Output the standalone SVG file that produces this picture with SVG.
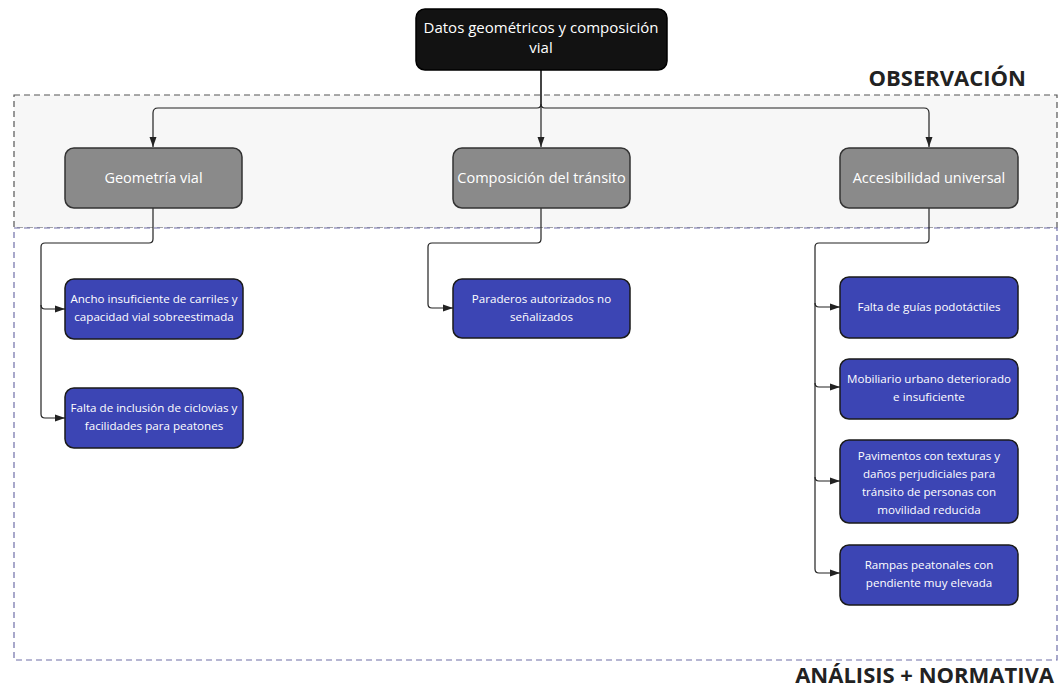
<svg xmlns="http://www.w3.org/2000/svg" width="1062" height="690" viewBox="0 0 1062 690">
<defs>
<marker id="arr" viewBox="0 0 10 10" refX="10" refY="5" markerWidth="10" markerHeight="10" markerUnits="userSpaceOnUse" orient="auto">
<path d="M0,1.5 L10,5 L0,8.5 Z" fill="#222"/>
</marker>
<style>
text{font-family:"Open Sans","Noto Sans","Liberation Sans",sans-serif;text-anchor:middle}
.top rect{fill:#121212;stroke:#000;stroke-width:1.5}
.top text{fill:#fff;font-size:15px}
.cat rect{fill:#8a8a8a;stroke:#333;stroke-width:1.5}
.cat text{fill:#fff;font-size:14.5px}
.leaf rect{fill:#3c45b4;stroke:#1a1a1a;stroke-width:1.5}
.leaf text{fill:#fff;font-size:11.6px}
.edge{fill:none;stroke:#222;stroke-width:1.2}
.label{font-weight:bold;fill:#222;text-anchor:end}
</style>
</defs>
<rect width="1062" height="690" fill="#fff"/>
<g id="zones">
<rect x="14" y="95" width="1043" height="133" fill="#f7f7f7" stroke="#555" stroke-width="1.2" stroke-dasharray="6,4"/>
<rect x="14" y="228" width="1043" height="432" fill="#fff" stroke="#6f6fa8" stroke-width="1.2" stroke-dasharray="6,4"/>
<text class="label" x="1026" y="86" font-size="22">OBSERVACIÓN</text>
<text class="label" x="1054" y="683" font-size="22">ANÁLISIS + NORMATIVA</text>
</g>
<g id="connectors">
<path class="edge" d="M541,70 V104 Q541,108 537,108 H158 Q153,108 153,113 V147" marker-end="url(#arr)"/>
<path class="edge" d="M541,70 V147" marker-end="url(#arr)"/>
<path class="edge" d="M541,104 Q541,108 545,108 H924 Q929,108 929,113 V147" marker-end="url(#arr)"/>
<path class="edge" d="M153,208 V239 Q153,243 149,243 H45 Q41,243 41,247 V305 Q41,309 45,309 H65" marker-end="url(#arr)"/>
<path class="edge" d="M41,305 V414 Q41,418 45,418 H65" marker-end="url(#arr)"/>
<path class="edge" d="M541,208 V239 Q541,243 537,243 H432 Q428,243 428,247 V304 Q428,308 432,308 H453" marker-end="url(#arr)"/>
<path class="edge" d="M929,208 V239 Q929,243 925,243 H819 Q815,243 815,247 V303 Q815,307 819,307 H840" marker-end="url(#arr)"/>
<path class="edge" d="M815,303 V383 Q815,387 819,387 H840" marker-end="url(#arr)"/>
<path class="edge" d="M815,383 V477 Q815,481 819,481 H840" marker-end="url(#arr)"/>
<path class="edge" d="M815,477 V569 Q815,573 819,573 H840" marker-end="url(#arr)"/>
</g>
<g id="n-top" class="top">
<rect x="416" y="9" width="251" height="61" rx="9"/>
<text x="541" y="33">Datos geométricos y composición</text>
<text x="541" y="53">vial</text>
</g>
<g id="n-geometria" class="cat">
<rect x="65" y="148" width="177" height="60" rx="9"/>
<text x="153.5" y="183">Geometría vial</text>
</g>
<g id="n-composicion" class="cat">
<rect x="453" y="148" width="177" height="60" rx="9"/>
<text x="541.5" y="183">Composición del tránsito</text>
</g>
<g id="n-accesibilidad" class="cat">
<rect x="840" y="148" width="178" height="60" rx="9"/>
<text x="929" y="183">Accesibilidad universal</text>
</g>
<g id="n-ancho" class="leaf">
<rect x="65" y="279" width="178" height="60" rx="9"/>
<text x="154" y="303">Ancho insuficiente de carriles y</text>
<text x="154" y="321">capacidad vial sobreestimada</text>
</g>
<g id="n-ciclovias" class="leaf">
<rect x="65" y="388" width="178" height="60" rx="9"/>
<text x="154" y="412">Falta de inclusión de ciclovias y</text>
<text x="154" y="430">facilidades para peatones</text>
</g>
<g id="n-paraderos" class="leaf">
<rect x="453" y="279" width="177" height="59" rx="9"/>
<text x="541.5" y="303">Paraderos autorizados no</text>
<text x="541.5" y="321">señalizados</text>
</g>
<g id="n-guias" class="leaf">
<rect x="840" y="277" width="178" height="61" rx="9"/>
<text x="929" y="311">Falta de guías podotáctiles</text>
</g>
<g id="n-mobiliario" class="leaf">
<rect x="840" y="359" width="178" height="60" rx="9"/>
<text x="929" y="383">Mobiliario urbano deteriorado</text>
<text x="929" y="401">e insuficiente</text>
</g>
<g id="n-pavimentos" class="leaf">
<rect x="840" y="440" width="178" height="83" rx="9"/>
<text x="929" y="460">Pavimentos con texturas y</text>
<text x="929" y="478">daños perjudiciales para</text>
<text x="929" y="496">tránsito de personas con</text>
<text x="929" y="514">movilidad reducida</text>
</g>
<g id="n-rampas" class="leaf">
<rect x="840" y="545" width="178" height="60" rx="9"/>
<text x="929" y="569">Rampas peatonales con</text>
<text x="929" y="587">pendiente muy elevada</text>
</g>
</svg>
